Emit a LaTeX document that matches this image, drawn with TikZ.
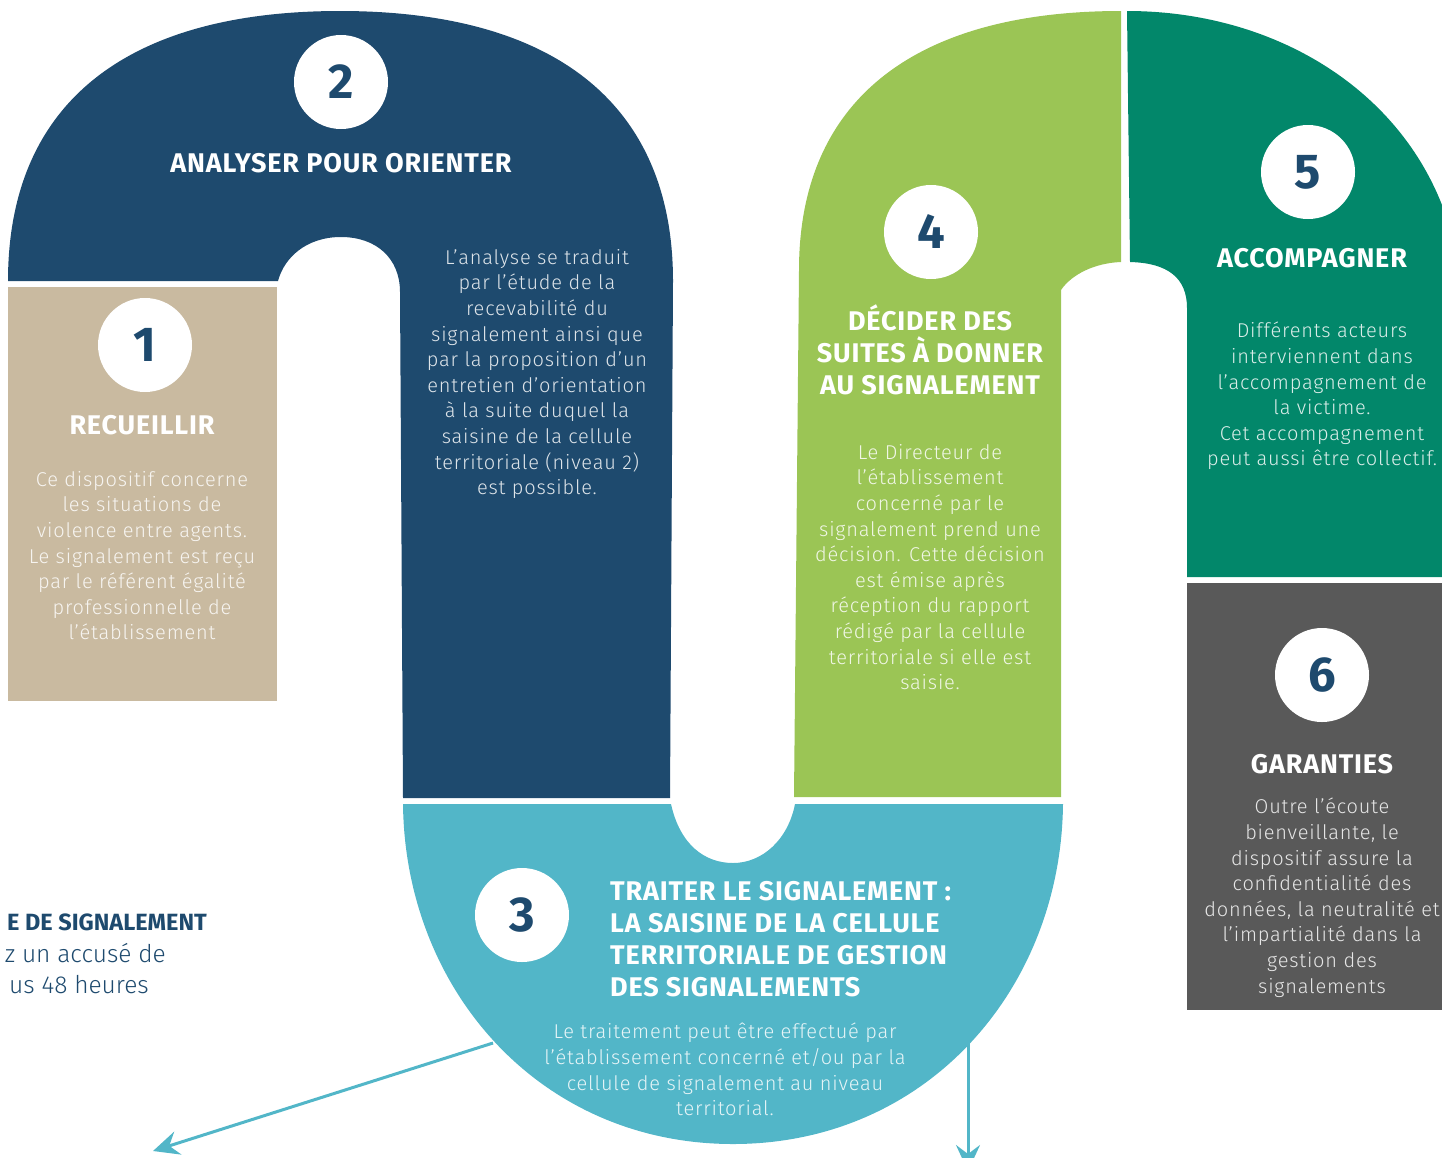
\documentclass[tikz,border=0pt]{standalone}
\usepackage{fontspec}
\setmainfont{Fira Sans}[LetterSpace=3]
\newfontfamily\lightf{Fira Sans Light}[LetterSpace=4]
\newfontfamily\plainf{Fira Sans}
\newfontfamily\plainlight{Fira Sans Light}
\usetikzlibrary{arrows.meta}
\definecolor{navy}{HTML}{1E4A6E}
\definecolor{sand}{HTML}{C9BAA0}
\definecolor{sky}{HTML}{52B6C8}
\definecolor{lime}{HTML}{9BC555}
\definecolor{stepteal}{HTML}{02876A}
\definecolor{slate}{HTML}{595959}
\tikzset{
  num/.style={circle, fill=white, minimum size=94pt, inner sep=0pt, text=navy,
    font=\fontsize{49}{49}\selectfont\bfseries},
  ttl/.style={text=white, font=\fontsize{27}{32}\selectfont\bfseries, align=center, inner sep=0pt},
  body/.style={text=white, text opacity=0.85, font=\lightf\fontsize{20}{25.6}\selectfont,
    align=center, inner sep=0pt},
  side/.style={text=navy, inner sep=0pt, anchor=base east},
  arrowline/.style={draw=sky, line width=3pt, -{Stealth[length=26pt,width=24pt,inset=9pt]}}
}
\begin{document}
\begin{tikzpicture}[x=1pt,y=-1pt]
\useasboundingbox (0,0) rectangle (1442,1157);
\clip (0,0) rectangle (1442,1157);
% shape 2
\fill[navy] (8,281) .. controls (8,105) and (124,11) .. (340,11)
  .. controls (556,11) and (673,105) .. (673,281) -- (670,798) -- (403,798) -- (400,292)
  .. controls (400,258) and (376,237) .. (341,237)
  .. controls (306,237) and (284,258) .. (278,281) -- cycle;
% shape 1
\fill[sand] (8,287) rectangle (277,701);
% shape 3
\fill[sky] (403,804) .. controls (405,990) and (540,1144) .. (733,1144)
  .. controls (926,1144) and (1061,990) .. (1063,804) -- (795,804)
  .. controls (788,840) and (762,863) .. (733,863)
  .. controls (705,863) and (680,845) .. (671,804) -- cycle;
% shape 4
\fill[lime] (794,797) -- (799,270) .. controls (799,102) and (912,11) .. (1121,11)
  -- (1121,262) .. controls (1095,263) and (1072,274) .. (1061,290) -- (1061,797) -- cycle;
% shape 5
\fill[stepteal] (1127,11) .. controls (1270,11) and (1395,85) .. (1442,205)
  -- (1442,577) -- (1187,577) -- (1187,308)
  .. controls (1187,278) and (1168,263) .. (1130,262) -- cycle;
% shape 6
\fill[slate] (1187,583) rectangle (1442,1010);

% number circles
\node[num] (n1) at (145,345) {1};
\node[num] (n2) at (341,82) {2};
\node[num] (n3) at (522,915) {3};
\node[num] (n4) at (931,232) {4};
\node[num] (n5) at (1308,172) {5};
\node[num] (n6) at (1322,675) {6};

% titles
\node[ttl, anchor=base] (t1) at (142,434) {RECUEILLIR};
\node[ttl, anchor=base] (t2) at (341,172) {ANALYSER POUR ORIENTER};
\node[ttl, anchor=north] (t4) at (930,304) {DÉCIDER DES\\SUITES À DONNER\\AU SIGNALEMENT};
\node[ttl, anchor=base] (t5) at (1312,267) {ACCOMPAGNER};
\node[ttl, anchor=base] (t6) at (1322,773) {GARANTIES};
\node[ttl, align=left, anchor=north west] (t3) at (610,881)
  {TRAITER LE SIGNALEMENT :\\LA SAISINE DE LA CELLULE\\TERRITORIALE DE GESTION\\DES SIGNALEMENTS};

% body texts
\node[body, anchor=north] (b1) at (142,471) {Ce dispositif concerne\\les situations de\\violence entre agents.\\Le signalement est reçu\\par le référent égalité\\professionnelle de\\l’établissement};
\node[body, anchor=north] (b2) at (537,249) {L’analyse se traduit\\par l’étude de la\\recevabilité du\\signalement ainsi que\\par la proposition d’un\\entretien d’orientation\\à la suite duquel la\\saisine de la cellule\\territoriale (niveau 2)\\est possible.};
\node[body, anchor=north] (b3) at (725,1023) {Le traitement peut être effectué par\\l’établissement concerné et/ou par la\\cellule de signalement au niveau\\territorial.};
\node[body, anchor=north] (b4) at (930,444) {Le Directeur de\\l’établissement\\concerné par le\\signalement prend une\\décision. Cette décision\\est émise après\\réception du rapport\\rédigé par la cellule\\territoriale si elle est\\saisie.};
\node[body, anchor=north] (b5) at (1322,322) {Différents acteurs\\interviennent dans\\l’accompagnement de\\la victime.\\Cet accompagnement\\peut aussi être collectif.};
\node[body, anchor=north] (b6) at (1322,798) {Outre l’écoute\\bienveillante, le\\dispositif assure la\\confidentialité des\\données, la neutralité et\\l’impartialité dans la\\gestion des\\signalements};

% left partial text
\node[side, font=\plainf\bfseries\fontsize{23.5}{24}\selectfont] (l1) at (207,930) {E DE SIGNALEMENT};
\node[side, font=\plainlight\fontsize{24.5}{25}\selectfont] (l2) at (166,962) {z un accusé de};
\node[side, font=\plainlight\fontsize{24.5}{25}\selectfont] (l3) at (149,993) {us 48 heures};

% arrows
\coordinate (a3w) at (493,1043);
\coordinate (endw) at (153,1151);
\coordinate (a3e) at (968,1043);
\coordinate (ende) at (968,1171);
\draw[arrowline] (a3w) -- (endw);
\draw[arrowline] (a3e) -- (ende);
\end{tikzpicture}
\end{document}
